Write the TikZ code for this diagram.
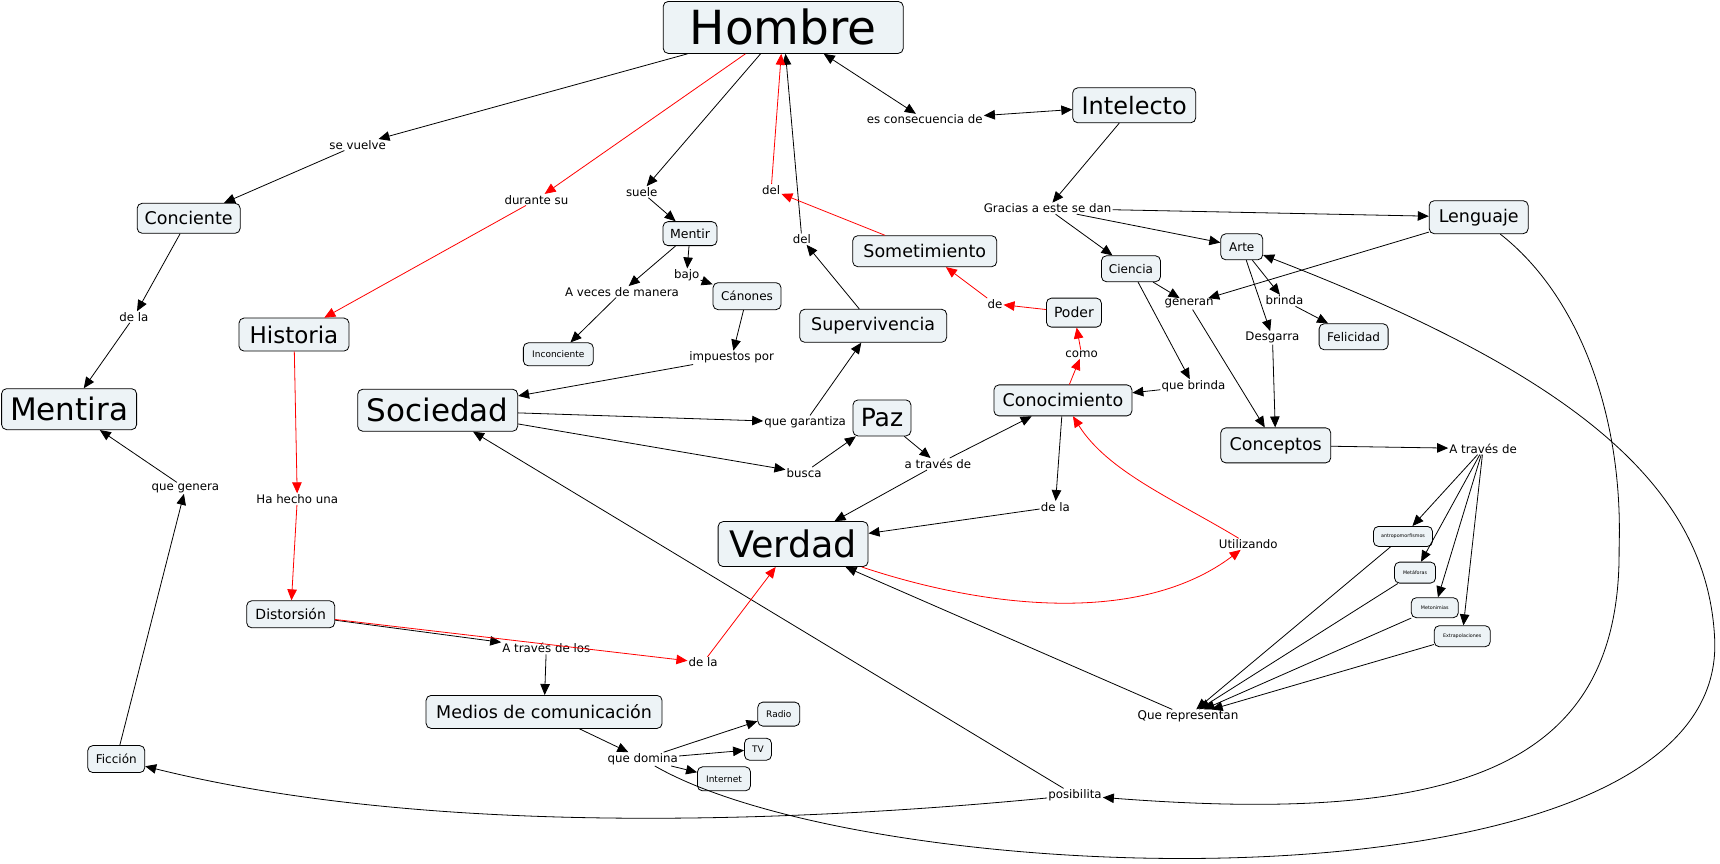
\documentclass[tikz,border=0pt]{standalone}
\usepackage{fontspec}
\setmainfont{DejaVu Sans}
\usepackage{tikz}
\usetikzlibrary{arrows.meta}
\definecolor{CmapFill}{RGB}{237,243,246}
\definecolor{CmapRed}{RGB}{255,0,0}

\begin{document}
\begin{tikzpicture}[x=1.097pt, y=-1.097pt,
    box/.style={draw, rounded corners=5pt, fill=CmapFill, line width=0.8pt, inner sep=1pt},
    sz/.style 2 args={minimum width=#1pt, minimum height=#2pt},
    fs/.style={font=\fontsize{#1pt}{#1pt}\selectfont},
    lbl/.style={inner sep=1pt, fs=11.8},
    arr/.style={-{Triangle[length=11pt,width=9.5pt]}, line width=0.8pt},
    dbl/.style={{Triangle[length=11pt,width=9.5pt]}-{Triangle[length=11pt,width=9.5pt]}, line width=0.8pt}
  ]
  \useasboundingbox (0,0) rectangle (1568,787);

  % concepts
  \node[box, sz={240}{52}, fs=47] (hombre) at (714,25) {Hombre};
  \node[box, sz={123}{35}, fs=24] (intelecto) at (1034,96) {Intelecto};
  \node[box, sz={103}{30}, fs=17.5] (conciente) at (172,199) {Conciente};
  \node[box, sz={110}{33}, fs=23] (historia) at (268,305) {Historia};
  \node[box, sz={135}{41}, fs=31] (mentira) at (63,373) {Mentira};
  \node[box, sz={160}{42}, fs=31] (sociedad) at (399,374) {Sociedad};
  \node[box, sz={54}{24}, fs=12.5] (mentir) at (629,213) {Mentir};
  \node[box, sz={68}{27}, fs=12] (canones) at (681,270) {Cánones};
  \node[box, sz={70}{23}, fs=9] (inconciente) at (509,323) {Inconciente};
  \node[box, sz={147}{33}, fs=17.5] (superviv) at (796,297) {Supervivencia};
  \node[box, sz={144}{31}, fs=17.5] (sometim) at (843,229) {Sometimiento};
  \node[box, sz={55}{29}, fs=14] (poder) at (979,285) {Poder};
  \node[box, sz={58}{36}, fs=25] (paz) at (804,381) {Paz};
  \node[box, sz={138}{31}, fs=17.5] (conocim) at (969,365) {Conocimiento};
  \node[box, sz={150}{45}, fs=36.5] (verdad) at (723,496) {Verdad};
  \node[box, sz={99}{33}, fs=17.5] (lenguaje) at (1348,198) {Lenguaje};
  \node[box, sz={42}{26}, fs=12] (arte) at (1132,225) {Arte};
  \node[box, sz={59}{26}, fs=12] (ciencia) at (1031,245) {Ciencia};
  \node[box, sz={69}{26}, fs=12] (felicidad) at (1234,307) {Felicidad};
  \node[box, sz={110}{35}, fs=17.5] (conceptos) at (1163,406) {Conceptos};
  \node[box, sz={59}{20}, fs=4.8] (antropo) at (1279,489) {antropomorfismos};
  \node[box, sz={41}{21}, fs=4.8] (metaforas) at (1290,522) {Metáforas};
  \node[box, sz={47}{20}, fs=4.8] (metonimias) at (1308,554) {Metonimias};
  \node[box, sz={56}{21}, fs=4.8] (extrapol) at (1333,580) {Extrapolaciones};
  \node[box, sz={88}{27}, fs=14] (distorsion) at (265,560) {Distorsión};
  \node[box, sz={236}{33}, fs=17.5] (medios) at (496,649) {Medios de comunicación};
  \node[box, sz={42}{24}, fs=9] (radio) at (710,651) {Radio};
  \node[box, sz={27}{22}, fs=9] (tv) at (691,683) {TV};
  \node[box, sz={53}{24}, fs=9] (internet) at (660,710) {Internet};
  \node[box, sz={57}{27}, fs=12] (ficcion) at (106,692) {Ficción};

  % linking phrases
  \node[lbl] (sevuelve) at (326,132) {se vuelve};
  \node[lbl] (durante) at (489,182) {durante su};
  \node[lbl] (delaA) at (122,289) {de la};
  \node[lbl] (suele) at (585,175) {suele};
  \node[lbl] (delrojo) at (703,173) {del};
  \node[lbl] (delnegro) at (731,218) {del};
  \node[lbl] (escons) at (843,109) {es consecuencia de};
  \node[lbl] (gracias) at (955,190) {Gracias a este se dan};
  \node[lbl] (aveces) at (567,266) {A veces de manera};
  \node[lbl] (bajo) at (626,251) {bajo};
  \node[lbl] (impuestos) at (667,326) {impuestos por};
  \node[lbl] (dede) at (907,277) {de};
  \node[lbl] (como) at (986,323) {como};
  \node[lbl] (garantiza) at (734,385) {que garantiza};
  \node[lbl] (busca) at (733,431) {busca};
  \node[lbl] (atraves) at (855,423) {a través de};
  \node[lbl] (quebrinda) at (1088,352) {que brinda};
  \node[lbl] (generan) at (1084,277) {generan};
  \node[lbl] (brinda) at (1171,274) {brinda};
  \node[lbl] (desgarra) at (1160,308) {Desgarra};
  \node[lbl] (atravesde) at (1352,409) {A través de};
  \node[lbl] (delaB) at (962,462) {de la};
  \node[lbl] (utiliz) at (1138,496) {Utilizando};
  \node[lbl] (quegenera) at (169,445) {que genera};
  \node[lbl] (hahecho) at (271,455) {Ha hecho una};
  \node[lbl] (atraveslos) at (498,591) {A través de los};
  \node[lbl] (delaC) at (641,604) {de la};
  \node[lbl] (quedomina) at (586,692) {que domina};
  \node[lbl] (posib) at (980,725) {posibilita};
  \node[lbl, fs=12] (querep) at (1083,653) {Que representan};

  \foreach \a/\b in {hombre/sevuelve, sevuelve/conciente, conciente/delaA, delaA/mentira,
      hombre/suele, suele/mentir, mentir/aveces, aveces/inconciente, mentir/bajo,
      bajo/canones, canones/impuestos, impuestos/sociedad, superviv/delnegro,
      delnegro/hombre, intelecto/gracias, gracias/lenguaje, gracias/arte,
      gracias/ciencia, lenguaje/generan, ciencia/generan, generan/conceptos,
      ciencia/quebrinda, quebrinda/conocim, arte/brinda, brinda/felicidad,
      arte/desgarra, desgarra/conceptos, conceptos/atravesde, atravesde/antropo,
      atravesde/metaforas, atravesde/metonimias, atravesde/extrapol,
      antropo/querep, metaforas/querep, metonimias/querep, extrapol/querep,
      querep/verdad, sociedad/garantiza, garantiza/superviv, sociedad/busca,
      busca/paz, paz/atraves, atraves/verdad, atraves/conocim, conocim/delaB,
      delaB/verdad, distorsion/atraveslos, atraveslos/medios, medios/quedomina,
      quedomina/radio, quedomina/tv, quedomina/internet, ficcion/quegenera,
      quegenera/mentira, posib/sociedad} {
    \draw[arr] (\a) -- (\b);
  }

  \foreach \a/\b in {hombre/durante, durante/historia, historia/hahecho,
      hahecho/distorsion, sometim/delrojo, delrojo/hombre, poder/dede,
      dede/sometim, conocim/como, como/poder, distorsion/delaC, delaC/verdad} {
    \draw[arr, CmapRed] (\a) -- (\b);
  }

  \draw[dbl] (hombre) -- (escons);
  \draw[dbl] (escons) -- (intelecto);

  % curved links
  \draw[arr, CmapRed] (verdad) .. controls (900,555) and (1040,570) .. (utiliz);
  \draw[arr, CmapRed] (utiliz) .. controls (1070,455) and (1010,430) .. (conocim);
  \draw[arr] (lenguaje) .. controls (1440,270) and (1480,380) .. (1476,500)
    .. controls (1478,700) and (1330,752) .. (posib);
  \draw[arr] (posib) .. controls (700,752) and (380,760) .. (ficcion);
  \draw[arr] (quedomina) .. controls (800,815) and (1580,840) .. (1563,580)
    .. controls (1555,440) and (1430,340) .. (arte);
\end{tikzpicture}
\end{document}
